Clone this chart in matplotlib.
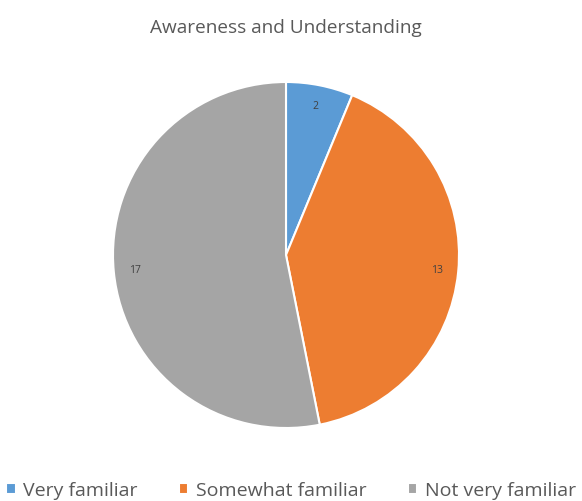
import matplotlib
matplotlib.use("Agg")
import matplotlib.pyplot as plt

# data
categories = ["Very familiar", "Somewhat familiar", "Not very familiar"]
counts = [2, 13, 17]
colours = ["#5B9BD5", "#ED7D31", "#A5A5A5"]

plt.rcParams["font.family"] = ["Open Sans", "DejaVu Sans"]

W, H = 582, 502
fig = plt.figure(figsize=(W / 100, H / 100), dpi=100)

# pie centre (286, 256) px from top, radius 173 px
cx, cy, r = 286, H - 256, 173
ax = fig.add_axes([(cx - r) / W, (cy - r) / H, 2 * r / W, 2 * r / H])

wedges, texts = ax.pie(
    counts,
    colors=colours,
    startangle=90,
    counterclock=False,
    labels=[str(c) for c in counts],
    labeldistance=0.88,
    wedgeprops=dict(edgecolor="white", linewidth=1.5),
    textprops=dict(fontsize=7.5, color="#404040"),
)
for t in texts:
    t.set_horizontalalignment("center")
ax.set_xlim(-1, 1)
ax.set_ylim(-1, 1)
ax.set_aspect("equal")
ax.axis("off")

fig.text(cx / W, 1 - 28 / H, "Awareness and Understanding",
         ha="center", va="center", fontsize=13.7, color="#595959")

fig.legend(wedges, categories, loc="center", bbox_to_anchor=(0.5, 1 - 491 / H),
           ncol=3, frameon=False, fontsize=14, handlelength=0.5, handleheight=0.5,
           handletextpad=0.4, columnspacing=2.1, labelcolor="#595959")

fig.savefig("out.png", dpi=100)
